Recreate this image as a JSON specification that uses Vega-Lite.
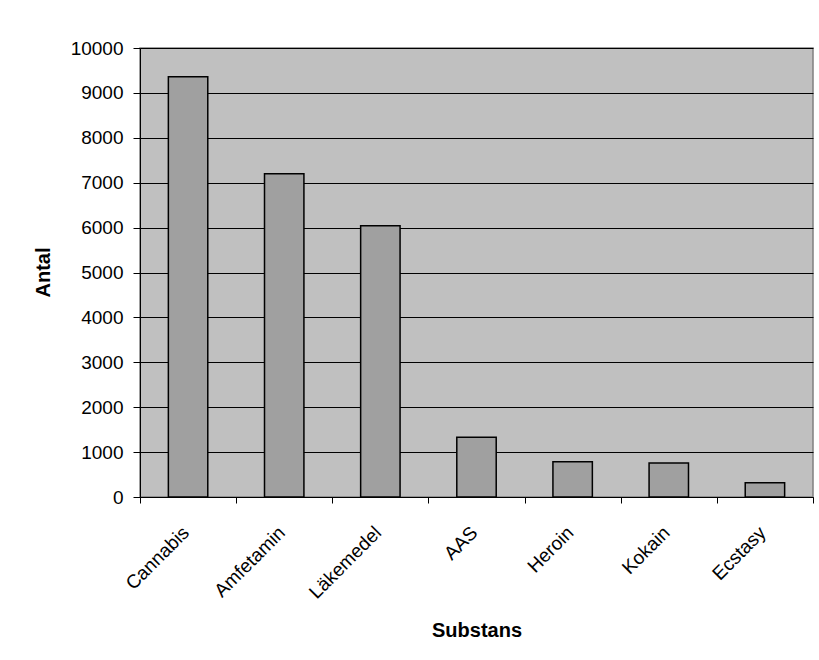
{
  "$schema": "https://vega.github.io/schema/vega-lite/v6.json",
  "width": 673,
  "height": 449,
  "autosize": "none",
  "padding": {"left": 140, "top": 48, "right": 6, "bottom": 163},
  "background": "white",
  "data": {
    "values": [
      {"Substans": "Cannabis", "Antal": 9360},
      {"Substans": "Amfetamin", "Antal": 7200},
      {"Substans": "Läkemedel", "Antal": 6040},
      {"Substans": "AAS", "Antal": 1330},
      {"Substans": "Heroin", "Antal": 785},
      {"Substans": "Kokain", "Antal": 755},
      {"Substans": "Ecstasy", "Antal": 315}
    ]
  },
  "mark": {"type": "bar", "fill": "#A0A0A0", "stroke": "#000000", "strokeWidth": 1.5, "width": {"band": 0.41}},
  "encoding": {
    "x": {
      "field": "Substans",
      "type": "nominal",
      "sort": null,
      "scale": {"paddingInner": 0, "paddingOuter": 0},
      "axis": {
        "title": "Substans",
        "labelAngle": -45,
        "tickBand": "extent",
        "labelFontSize": 19,
        "labelColor": "#000000",
        "labelPadding": 20,
        "labelOffset": -9,
        "tickSize": 6,
        "tickColor": "#000000",
        "domainColor": "#000000",
        "titleFontSize": 20,
        "titleFontWeight": "bold",
        "titleColor": "#000000",
        "titleBaseline": "middle",
        "titleY": 133
      }
    },
    "y": {
      "field": "Antal",
      "type": "quantitative",
      "scale": {"domain": [0, 10000], "nice": false},
      "axis": {
        "title": "Antal",
        "values": [0, 1000, 2000, 3000, 4000, 5000, 6000, 7000, 8000, 9000, 10000],
        "format": "d",
        "labelFontSize": 19,
        "labelColor": "#000000",
        "labelPadding": 10,
        "tickSize": 7,
        "tickColor": "#000000",
        "domainColor": "#000000",
        "grid": true,
        "gridColor": "#000000",
        "gridOpacity": 1,
        "gridWidth": 1,
        "titleFontSize": 20,
        "titleFontWeight": "bold",
        "titleColor": "#000000",
        "titleX": -97,
        "titleY": 224,
        "titleAngle": -90,
        "titleBaseline": "middle"
      }
    }
  },
  "config": {
    "font": "Liberation Sans",
    "view": {"fill": "#C0C0C0", "stroke": "#808080", "strokeWidth": 1.5}
  }
}
